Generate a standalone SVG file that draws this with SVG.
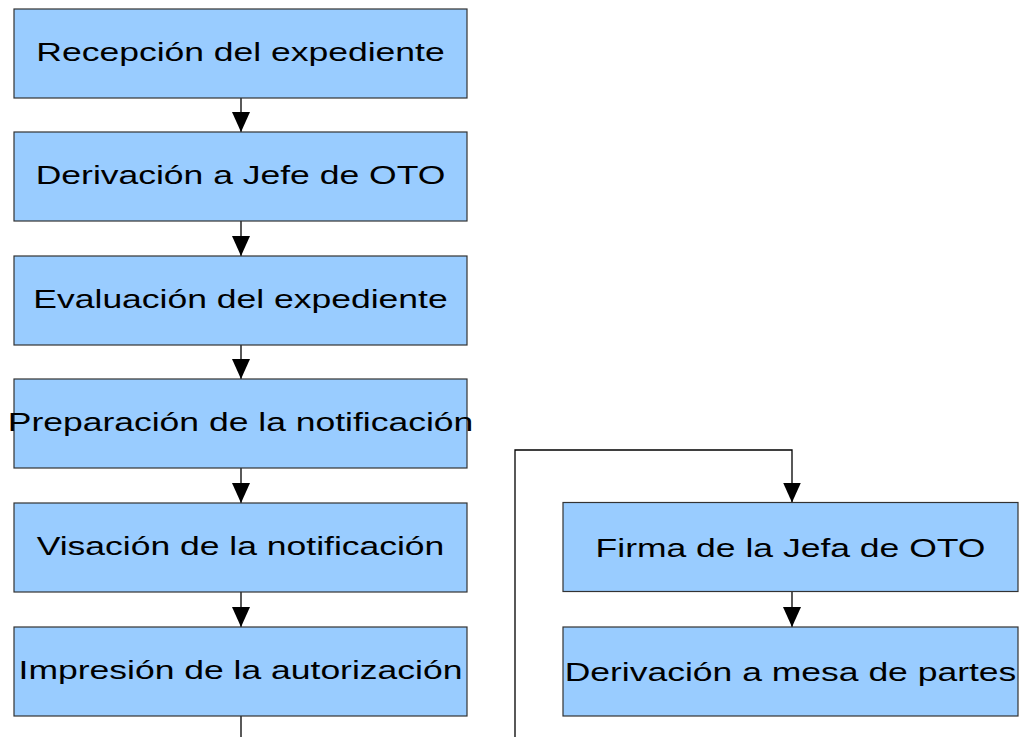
<svg xmlns="http://www.w3.org/2000/svg" width="1023" height="737" viewBox="0 0 1023 737">
<defs>
<style>
.box{fill:#99ccff;stroke:#333333;stroke-width:1.2}
.lbl{font-family:"Liberation Sans",Arial,sans-serif;font-size:25px;fill:#000;text-anchor:middle}
.con{fill:none;stroke:#000;stroke-width:1.3}
</style>
<marker id="ah" markerUnits="userSpaceOnUse" markerWidth="20" markerHeight="18" refX="20" refY="9" orient="auto">
<path d="M0,0 L20,9 L0,18 Z" fill="#000"/>
</marker>
</defs>
<rect width="1023" height="737" fill="#ffffff"/>
<g id="connectors">
<line class="con" x1="241" y1="98" x2="241" y2="132" marker-end="url(#ah)"/>
<line class="con" x1="241" y1="221" x2="241" y2="256" marker-end="url(#ah)"/>
<line class="con" x1="241" y1="345" x2="241" y2="379" marker-end="url(#ah)"/>
<line class="con" x1="241" y1="468" x2="241" y2="503" marker-end="url(#ah)"/>
<line class="con" x1="241" y1="592" x2="241" y2="627" marker-end="url(#ah)"/>
<line class="con" x1="241" y1="716" x2="241" y2="737"/>
<path class="con" d="M515,737 L515,450 L792,450 L792,502.5" marker-end="url(#ah)"/>
<line class="con" x1="792" y1="591.5" x2="792" y2="627" marker-end="url(#ah)"/>
</g>
<g id="n1"><rect class="box" x="14" y="9" width="453" height="89"/><text class="lbl" transform="translate(240.5,61) scale(1.42,1)">Recepción del expediente</text></g>
<g id="n2"><rect class="box" x="14" y="132" width="453" height="89"/><text class="lbl" transform="translate(240.5,184) scale(1.42,1)">Derivación a Jefe de OTO</text></g>
<g id="n3"><rect class="box" x="14" y="256" width="453" height="89"/><text class="lbl" transform="translate(240.5,308) scale(1.42,1)">Evaluación del expediente</text></g>
<g id="n4"><rect class="box" x="14" y="379" width="453" height="89"/><text class="lbl" transform="translate(240.5,431) scale(1.42,1)">Preparación de la notificación</text></g>
<g id="n5"><rect class="box" x="14" y="503" width="453" height="89"/><text class="lbl" transform="translate(240.5,555) scale(1.42,1)">Visación de la notificación</text></g>
<g id="n6"><rect class="box" x="14" y="627" width="453" height="89"/><text class="lbl" transform="translate(240.5,679) scale(1.42,1)">Impresión de la autorización</text></g>
<g id="n7"><rect class="box" x="563" y="502.5" width="455" height="89"/><text class="lbl" transform="translate(790.5,557) scale(1.42,1)">Firma de la Jefa de OTO</text></g>
<g id="n8"><rect class="box" x="563" y="627" width="455" height="89"/><text class="lbl" transform="translate(790.5,681) scale(1.42,1)">Derivación a mesa de partes</text></g>
</svg>
